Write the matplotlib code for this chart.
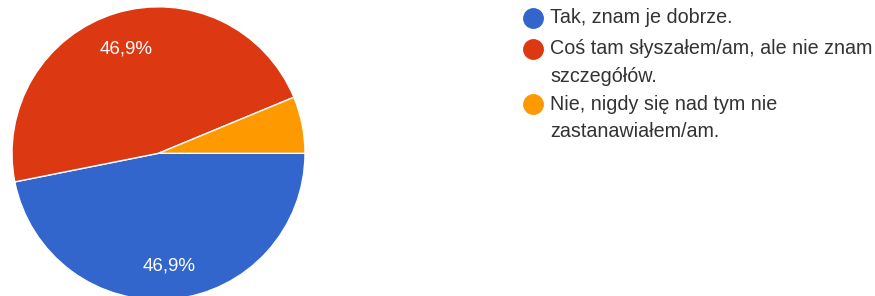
import matplotlib.pyplot as plt
from matplotlib.lines import Line2D

# --- Daten ---
labels = ["Tak, znam je dobrze.",
          "Coś tam słyszałem/am, ale nie znam\nszczegółów.",
          "Nie, nigdy się nad tym nie\nzastanawiałem/am."]
counts = [15, 15, 2]
colors = ["#3366cc", "#dc3912", "#ff9900"]

plt.rcParams['font.family'] = ['Liberation Sans', 'DejaVu Sans']

W, H = 875, 296
fig = plt.figure(figsize=(W / 100, H / 100), dpi=100)

# Torte: Mittelpunkt (158.5, 153) px, Radius 146.5 px
cx, cy, r = 158.5, 153.3, 146.5
ax = fig.add_axes([(cx - r) / W, (H - cy - r) / H, 2 * r / W, 2 * r / H])


def fmt_pct(p):
    if p < 10:
        return ""
    return f"{p:.1f}".replace(".", ",") + "%"


wedges, texts, autotexts = ax.pie(
    counts, colors=colors, startangle=0, counterclock=False,
    autopct=fmt_pct, pctdistance=0.76,
    wedgeprops=dict(edgecolor="white", linewidth=1),
    textprops=dict(color="white", fontsize=13.5))
for t in autotexts:
    t.set_va("top")
    t.set_y(t.get_position()[1] + 0.045)
ax.set_xlim(-1, 1)
ax.set_ylim(-1, 1)

# --- Legende (manuell, mit Zeilenumbruch) ---
entry_y = [17.5, 49, 104]   # px von oben, erste Zeile je Eintrag
line_h = 27.5
for lab, col, y0 in zip(labels, colors, entry_y):
    fig.add_artist(Line2D([532.5 / W], [1 - y0 / H], marker="o", markersize=14,
                          color=col, linestyle="none", transform=fig.transFigure))
    for i, line in enumerate(lab.split("\n")):
        fig.text(550.5 / W, 1 - (y0 + i * line_h) / H, line, fontsize=14.2,
                 color="#333333", va="center", ha="left")

fig.savefig("out.png", dpi=100)
